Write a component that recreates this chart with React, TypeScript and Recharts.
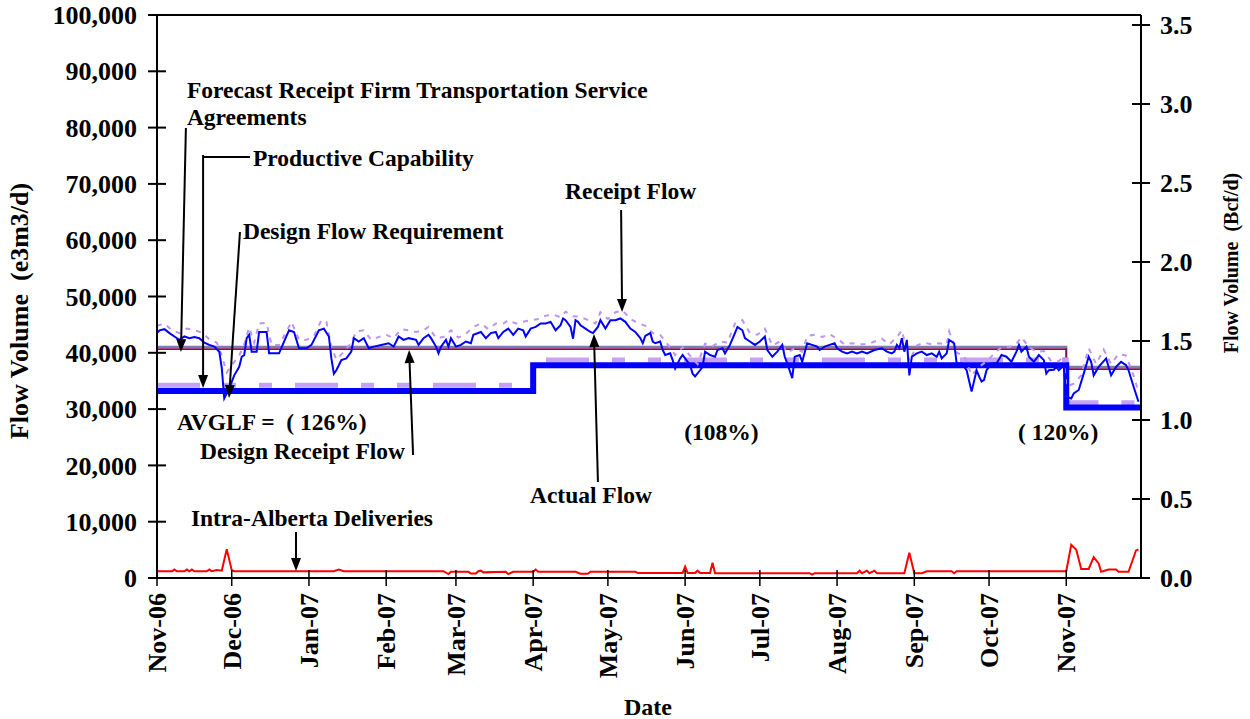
import React from 'react';
import { LineChart, Line, XAxis, YAxis, ReferenceLine, ReferenceDot } from 'recharts';

const FONT = '"Liberation Serif", "Times New Roman", Times, serif';

// x values are day offsets from 1-Nov-2006
const monthTicks = [0, 30, 61, 92, 120, 151, 181, 212, 242, 273, 304, 334, 365];
const monthLabels = ['Nov-06', 'Dec-06', 'Jan-07', 'Feb-07', 'Mar-07', 'Apr-07', 'May-07', 'Jun-07', 'Jul-07', 'Aug-07', 'Sep-07', 'Oct-07', 'Nov-07'];
const leftTicks = [0, 10000, 20000, 30000, 40000, 50000, 60000, 70000, 80000, 90000, 100000];
const rightTicks = [0, 0.5, 1.0, 1.5, 2.0, 2.5, 3.0, 3.5];

// Actual Flow (e3m3/d)
const actualFlow: [number, number][] = [
  [0, 43500], [1, 44000], [3, 44200], [5, 43500], [7, 42900], [9, 42300], [11, 42900], [13, 42600], [15, 42800], [17, 42600],
  [19, 41800], [21, 41400], [23, 41100], [25, 40200], [26, 37300], [27, 31900], [29, 33700], [31, 36000], [33, 37500], [34, 39300],
  [35, 39600], [36, 42600], [37, 43200], [38, 40200], [40, 40200], [41, 43700], [44, 43700], [45, 39900], [47, 39900], [49, 39900],
  [51, 42000], [53, 44000], [55, 43700], [57, 40800], [60, 40800], [62, 41400], [65, 44000], [67, 44300], [69, 42900], [70, 39000],
  [71, 36300], [72, 36900], [74, 38700], [76, 39000], [78, 40200], [79, 42600], [81, 42000], [83, 42600], [85, 40800], [87, 41100],
  [90, 41400], [93, 41700], [95, 41100], [97, 42900], [99, 42300], [101, 42600], [104, 42300], [105, 41400], [107, 42600], [109, 43200],
  [110, 42600], [112, 41100], [113, 39900], [114, 41100], [116, 42300], [117, 41100], [118, 42600], [120, 41100], [122, 41400], [124, 42000],
  [126, 41700], [127, 43200], [130, 43700], [132, 42600], [134, 43500], [136, 43700], [137, 42600], [139, 43700], [141, 44300], [143, 43200],
  [145, 44300], [147, 44000], [148, 42900], [150, 44300], [152, 44600], [154, 45200], [156, 45200], [158, 45500], [160, 44000], [162, 44900],
  [163, 46100], [164, 45800], [166, 44600], [167, 42500], [168, 45800], [169, 45500], [170, 44900], [172, 44300], [174, 43700], [175, 43500],
  [177, 44600], [178, 45800], [180, 44300], [182, 45800], [184, 45800], [186, 46100], [188, 45500], [190, 44300], [192, 43700], [194, 42600],
  [195, 41700], [196, 43000], [198, 43500], [199, 42000], [200, 41700], [202, 42000], [203, 40500], [204, 39600], [206, 39900], [207, 38700],
  [208, 37200], [210, 39000], [211, 39600], [212, 39000], [214, 37800], [215, 36300], [216, 35800], [218, 36900], [219, 37500], [220, 40200],
  [222, 39600], [224, 39300], [225, 40500], [227, 40800], [228, 39900], [230, 41400], [232, 43500], [233, 44600], [235, 44000], [236, 42600],
  [238, 42000], [240, 41400], [242, 42000], [244, 42900], [245, 40500], [247, 39300], [249, 40200], [251, 41400], [252, 39300], [253, 38100],
  [255, 35500], [256, 39300], [258, 39600], [259, 38400], [261, 41700], [263, 41400], [265, 41100], [266, 40500], [268, 41100], [270, 41400],
  [272, 41700], [273, 40800], [275, 40200], [277, 39900], [279, 40200], [281, 39900], [283, 40200], [285, 39900], [288, 40500], [291, 40800],
  [293, 40200], [295, 39900], [296, 40200], [297, 41400], [298, 40800], [299, 42600], [300, 40200], [301, 42300], [302, 36000], [303, 39300],
  [305, 39900], [307, 40200], [309, 39600], [311, 39900], [313, 39300], [314, 40200], [315, 39000], [317, 39900], [318, 42300], [320, 41700],
  [321, 38100], [323, 38100], [325, 36900], [327, 33100], [329, 36900], [330, 35800], [331, 34900], [332, 35200], [333, 36900], [335, 38100],
  [337, 38100], [339, 39600], [341, 39300], [343, 38400], [345, 40200], [346, 41400], [347, 40200], [349, 41100], [350, 39300], [352, 38400],
  [354, 39600], [356, 38700], [357, 36300], [358, 36900], [360, 37000], [361, 37500], [362, 36900], [364, 37800], [365, 32200], [367, 31900],
  [368, 32800], [370, 33400], [372, 36300], [374, 39300], [375, 38400], [376, 36000], [378, 37500], [381, 39000], [383, 36000], [385, 37500],
  [387, 38400], [389, 37800], [390, 36900], [392, 34000], [394, 31300],
];

// Receipt Flow (e3m3/d)
const receiptFlow: [number, number][] = [
  [0, 44800], [3, 45200], [6, 44000], [9, 43500], [12, 44300], [15, 44000], [18, 43600], [21, 42400], [24, 41800], [26, 39500],
  [28, 36500], [30, 37800], [33, 39500], [35, 41500], [37, 44500], [39, 41800], [41, 45200], [44, 45300], [46, 41400], [49, 41400],
  [52, 43800], [54, 45500], [57, 42300], [60, 42300], [63, 43000], [66, 45800], [68, 45500], [70, 41000], [72, 38800], [75, 40200],
  [78, 41800], [80, 43800], [83, 44000], [86, 42300], [89, 42800], [92, 43200], [95, 42600], [98, 44200], [101, 44000], [104, 43700],
  [107, 44000], [109, 44600], [112, 42600], [115, 42800], [118, 44000], [121, 42700], [124, 43400], [127, 44600], [130, 45200], [133, 44200],
  [136, 45200], [139, 45200], [141, 45800], [144, 45200], [147, 45500], [150, 45800], [153, 46000], [156, 46600], [159, 46800], [162, 46300],
  [164, 47300], [167, 46500], [170, 46400], [173, 45800], [176, 45200], [178, 47200], [181, 46000], [184, 47200], [187, 47500], [190, 46000],
  [193, 45300], [196, 44800], [199, 43500], [202, 43200], [205, 41500], [208, 39600], [211, 41000], [214, 39500], [217, 38000], [220, 41600],
  [223, 41200], [226, 42000], [229, 41800], [232, 45200], [235, 45800], [238, 43500], [241, 43200], [244, 44300], [247, 41300], [250, 42000],
  [253, 40000], [256, 40800], [259, 40200], [261, 43000], [264, 43200], [267, 42800], [270, 43300], [273, 42500], [276, 41500], [279, 41700],
  [282, 41500], [285, 41500], [288, 42000], [291, 42500], [294, 41500], [297, 42800], [299, 44000], [302, 38500], [305, 41300], [308, 41800],
  [311, 41500], [314, 41700], [317, 41500], [318, 43800], [321, 40000], [324, 39500], [327, 36000], [330, 37500], [333, 38500], [336, 39800],
  [339, 41000], [342, 41000], [345, 41600], [347, 42800], [350, 41000], [353, 40200], [356, 40300], [359, 38500], [362, 38500], [364, 39500],
  [365, 34000], [368, 34500], [371, 36000], [374, 40800], [377, 38000], [380, 40600], [383, 38000], [386, 39800], [389, 39500], [392, 36000],
  [394, 33000],
];

// Step series (value holds from the given day)
const forecastFT: [number, number][] = [[0, 41050], [365, 37500], [395, 37500]];
const designReceiptFlow: [number, number][] = [[0, 40650], [365, 37100], [395, 37100]];
const productiveCapability: [number, number][] = [[0, 34250], [151, 38700], [365, 31150], [395, 31150]];
const designFlowRequirement: [number, number][] = [[0, 33200], [151, 37800], [365, 30300], [395, 30300]];

// Intra-Alberta Deliveries (e3m3/d)
const intraAlberta: [number, number][] = [
  [0, 1200], [6, 1200], [7, 1500], [8, 1200], [11, 1200], [12, 1500], [13, 1200], [14, 1500], [15, 1200], [20, 1200], [21, 1500], [22, 1200],
  [24, 1400], [26, 1300], [28, 5100], [30, 1400], [31, 1200], [71, 1200], [73, 1500], [75, 1200], [115, 1200], [117, 700], [118, 1100],
  [125, 1100], [126, 800], [128, 800], [129, 1200], [130, 1300], [131, 1000], [140, 1100], [141, 700], [143, 1100], [151, 1100], [152, 1500],
  [153, 1100], [168, 1100], [170, 750], [173, 750], [174, 1100], [192, 1100], [193, 900], [211, 900], [212, 2000], [213, 900], [216, 900],
  [217, 1300], [218, 900], [222, 900], [223, 2700], [224, 850], [262, 850], [263, 600], [264, 850], [281, 850], [282, 1300], [283, 850],
  [285, 1300], [286, 850], [288, 1300], [289, 850], [300, 850], [302, 4500], [304, 850], [307, 850], [309, 1200], [319, 1200], [320, 850],
  [321, 1200], [365, 1200], [367, 5900], [369, 5000], [371, 1600], [374, 1600], [376, 3700], [378, 2600], [379, 1100], [382, 1500],
  [385, 1500], [386, 1100], [390, 1100], [393, 4900], [394, 5100],
];

const toPts = (arr: [number, number][]) => arr.map(([d, v]) => ({ d, v }));

const fmtThousands = (n: number) => String(n).replace(/\B(?=(\d{3})+(?!\d))/g, ',');

const LeftTick = (p: any) => {
  const ax = p.x + 20;
  return (
    <g>
      <line x1={ax - 9} x2={ax + 9} y1={p.y} y2={p.y} stroke="#000" strokeWidth={2} />
      <text x={p.x} y={p.y} dy="0.35em" textAnchor="end" fontFamily={FONT} fontWeight="bold" fontSize={26} fill="#000">
        {fmtThousands(p.payload.value)}
      </text>
    </g>
  );
};

const RightTick = (p: any) => {
  const ax = p.x - 19;
  return (
    <g>
      <line x1={ax - 9} x2={ax + 9} y1={p.y} y2={p.y} stroke="#000" strokeWidth={2} />
      <text x={p.x} y={p.y} dy="0.35em" textAnchor="start" fontFamily={FONT} fontWeight="bold" fontSize={26} fill="#000">
        {Number(p.payload.value).toFixed(1)}
      </text>
    </g>
  );
};

const BottomTick = (p: any) => {
  const ay = p.y - 15;
  const idx = monthTicks.indexOf(p.payload.value);
  return (
    <g>
      <line x1={p.x} x2={p.x} y1={ay - 8} y2={ay + 8} stroke="#000" strokeWidth={1.5} />
      <text transform={`translate(${p.x},${p.y}) rotate(-90)`} dy="0.35em" textAnchor="end" fontFamily={FONT} fontWeight="bold" fontSize={26} fill="#000">
        {idx >= 0 ? monthLabels[idx] : ''}
      </text>
    </g>
  );
};

const arrowShape = (head: boolean) => (p: any) => {
  const { x1, y1, x2, y2 } = p;
  if (!head) return <line x1={x1} y1={y1} x2={x2} y2={y2} stroke="#000" strokeWidth={2} />;
  const ang = Math.atan2(y2 - y1, x2 - x1);
  const L = 13;
  const W = 5;
  const bx = x2 - L * Math.cos(ang);
  const by = y2 - L * Math.sin(ang);
  const px = -Math.sin(ang) * W;
  const py = Math.cos(ang) * W;
  return (
    <g>
      <line x1={x1} y1={y1} x2={bx} y2={by} stroke="#000" strokeWidth={2} />
      <polygon points={`${x2},${y2} ${bx + px},${by + py} ${bx - px},${by - py}`} fill="#000" />
    </g>
  );
};

const textShape = (txt: string) => (p: any) => (
  <text x={p.cx} y={p.cy} fontFamily={FONT} fontWeight="bold" fontSize={23.5} fill="#000" style={{ whiteSpace: 'pre' }}>
    {txt}
  </text>
);

// annotation anchors in data coordinates (day, e3m3/d)
const notes: { t: string; d: number; v: number }[] = [
  { t: 'Forecast Receipt Firm Transportation Service', d: 12.0, v: 85260 },
  { t: 'Agreements', d: 12.0, v: 80460 },
  { t: 'Productive Capability', d: 38.5, v: 73210 },
  { t: 'Design Flow Requirement', d: 34.5, v: 60250 },
  { t: 'Receipt Flow', d: 163.8, v: 67320 },
  { t: 'AVGLF =  ( 126%)', d: 8.0, v: 26290 },
  { t: 'Design Receipt Flow', d: 17.3, v: 21140 },
  { t: '(108%)', d: 211.6, v: 24510 },
  { t: 'Actual Flow', d: 149.7, v: 13320 },
  { t: '( 120%)', d: 345.6, v: 24510 },
  { t: 'Intra-Alberta Deliveries', d: 13.6, v: 9240 },
];

const arrows: { a: [number, number]; b: [number, number]; head: boolean }[] = [
  { a: [11.6, 79930], b: [9.6, 40140], head: true },
  { a: [18.5, 75130], b: [18.5, 33750], head: true },
  { a: [18.5, 74780], b: [37.3, 74780], head: false },
  { a: [33.3, 61460], b: [28.9, 31970], head: true },
  { a: [186.3, 65360], b: [186.7, 47250], head: true },
  { a: [177.0, 17050], b: [175.4, 43340], head: true },
  { a: [102.8, 21850], b: [101.2, 40500], head: true },
  { a: [55.8, 8170], b: [55.8, 1240], head: true },
];

const titleStyle = { fontFamily: FONT, fontWeight: 'bold' as const, fill: '#000' };

export default function App() {
  return (
    <div style={{ position: 'absolute', left: 0, top: 0, width: 1250, height: 719, background: '#fff' }}>
      <LineChart width={1250} height={719} margin={{ top: 15, right: 0, bottom: 0, left: 0 }}>
        <XAxis
          xAxisId="b"
          dataKey="d"
          type="number"
          domain={[0, 395]}
          allowDataOverflow
          ticks={monthTicks}
          interval={0}
          height={141}
          tickSize={8}
          tickMargin={7}
          tickLine={false}
          axisLine={{ stroke: '#000', strokeWidth: 2 }}
          tick={<BottomTick />}
          label={{
            content: () => (
              <text x={648} y={715} textAnchor="middle" fontSize={24} {...titleStyle}>Date</text>
            ),
          }}
        />
        <YAxis
          yAxisId="l"
          type="number"
          domain={[0, 100000]}
          allowDataOverflow
          ticks={leftTicks}
          interval={0}
          width={157}
          tickSize={9}
          tickMargin={11}
          tickLine={false}
          axisLine={{ stroke: '#000', strokeWidth: 2 }}
          tick={<LeftTick />}
          label={{
            content: () => (
              <text transform="translate(19,311) rotate(-90)" dy="0.35em" textAnchor="middle" fontSize={26} {...titleStyle} style={{ whiteSpace: 'pre' }}>
                {'Flow Volume  (e3m3/d)'}
              </text>
            ),
          }}
        />
        <YAxis
          yAxisId="r"
          orientation="right"
          type="number"
          domain={[0, 3.5633]}
          allowDataOverflow
          ticks={rightTicks}
          interval={0}
          width={109}
          tickSize={9}
          tickMargin={10}
          tickLine={false}
          axisLine={{ stroke: '#000', strokeWidth: 2 }}
          tick={<RightTick />}
          label={{
            content: () => (
              <text transform="translate(1231,263) rotate(-90)" dy="0.35em" textAnchor="middle" fontSize={20} {...titleStyle} style={{ whiteSpace: 'pre' }}>
                {'Flow Volume  (Bcf/d)'}
              </text>
            ),
          }}
        />
        <ReferenceLine xAxisId="b" yAxisId="l" y={100000} stroke="#000" strokeWidth={2} ifOverflow="visible" />

        <Line xAxisId="b" yAxisId="l" data={toPts(forecastFT)} dataKey="v" type="stepAfter" stroke="#7C7CAE" strokeWidth={2.2} dot={false} activeDot={false} isAnimationActive={false} />
        <Line xAxisId="b" yAxisId="l" data={toPts(designReceiptFlow)} dataKey="v" type="stepAfter" stroke="#80104F" strokeWidth={1.6} dot={false} activeDot={false} isAnimationActive={false} />
        <Line xAxisId="b" yAxisId="l" data={toPts(productiveCapability)} dataKey="v" type="stepAfter" stroke="#C4A2F4" strokeWidth={5} strokeDasharray="43 23 13 23 13 23" dot={false} activeDot={false} isAnimationActive={false} />
        <Line xAxisId="b" yAxisId="l" data={toPts(designFlowRequirement)} dataKey="v" type="stepAfter" stroke="#0000FF" strokeWidth={6} dot={false} activeDot={false} isAnimationActive={false} />
        <Line xAxisId="b" yAxisId="l" data={toPts(receiptFlow)} dataKey="v" type="linear" stroke="#BC94F2" strokeWidth={2} strokeDasharray="5 6" dot={false} activeDot={false} isAnimationActive={false} />
        <Line xAxisId="b" yAxisId="l" data={toPts(actualFlow)} dataKey="v" type="linear" stroke="#0000FF" strokeWidth={2} dot={false} activeDot={false} isAnimationActive={false} />
        <Line xAxisId="b" yAxisId="l" data={toPts(intraAlberta)} dataKey="v" type="linear" stroke="#FF0000" strokeWidth={2} dot={false} activeDot={false} isAnimationActive={false} />

        {arrows.map((a, i) => (
          <ReferenceLine
            key={`ar${i}`}
            xAxisId="b"
            yAxisId="l"
            segment={[{ x: a.a[0], y: a.a[1] }, { x: a.b[0], y: a.b[1] }]}
            ifOverflow="visible"
            shape={arrowShape(a.head)}
          />
        ))}
        {notes.map((n, i) => (
          <ReferenceDot key={`nt${i}`} xAxisId="b" yAxisId="l" x={n.d} y={n.v} r={0} ifOverflow="visible" shape={textShape(n.t)} />
        ))}
      </LineChart>
    </div>
  );
}
